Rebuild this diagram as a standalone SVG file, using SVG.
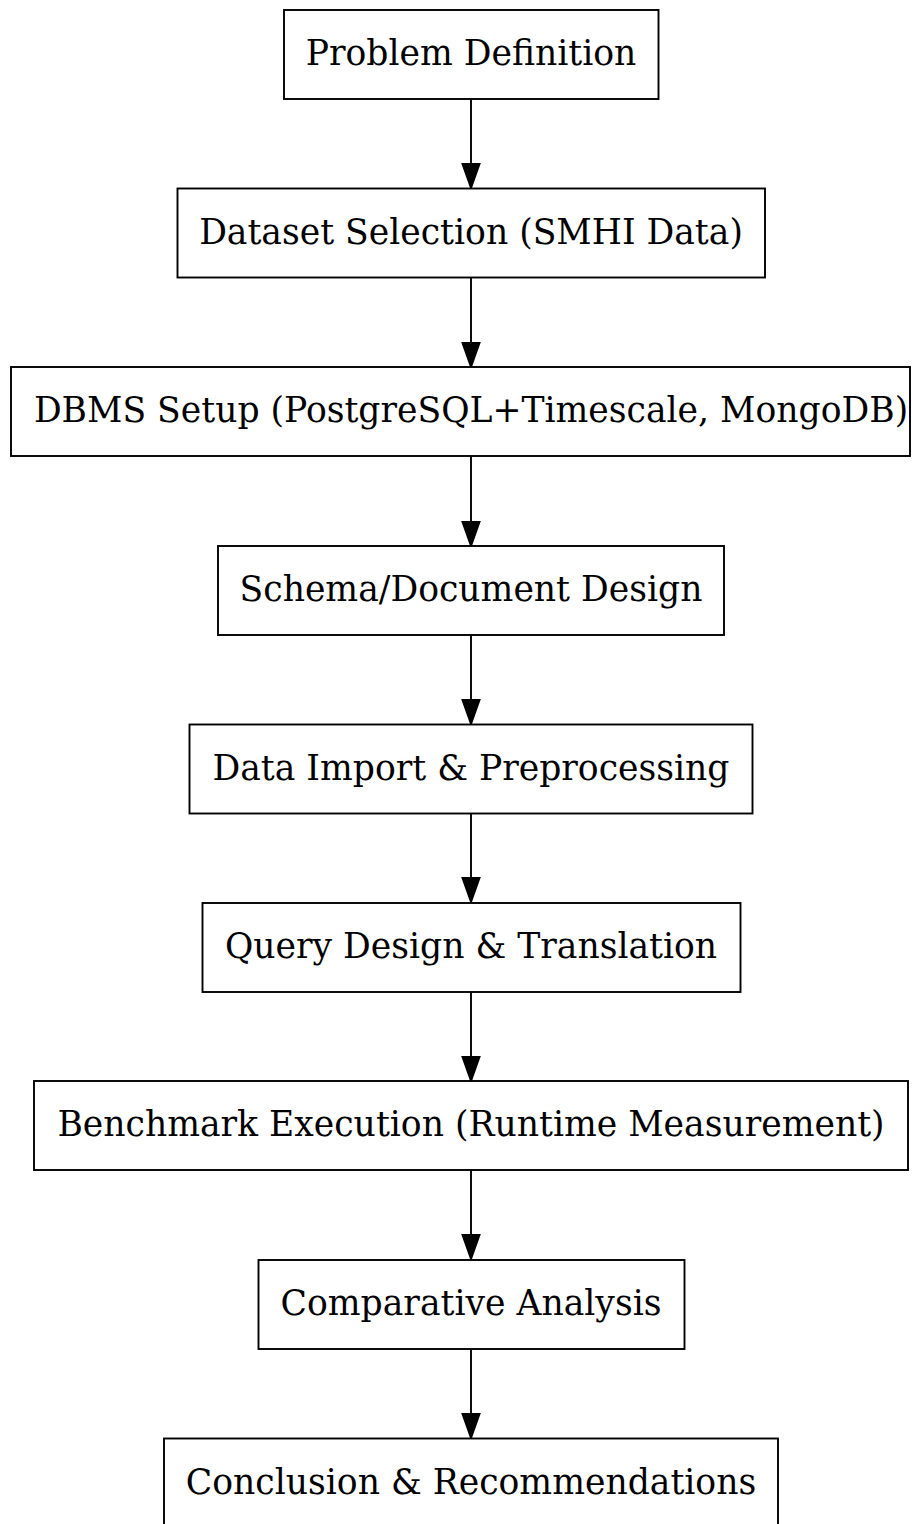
<svg xmlns="http://www.w3.org/2000/svg" width="921" height="1524" viewBox="0 0 921 1524">
<style>
.n rect{fill:#fff;stroke:#000;stroke-width:1.9}
.n text{font-family:"DejaVu Serif",serif;font-size:34.6px;text-anchor:middle;fill:#000}
.e line{stroke:#000;stroke-width:1.9}
.e polygon{fill:#000;stroke:#000;stroke-width:1.9}
</style>
<rect width="921" height="1524" fill="#fff"/>
<g class="e">
<line x1="471" y1="99" x2="471" y2="164"/><polygon points="462.5,164 479.5,164 471,188"/>
<line x1="471" y1="277" x2="471" y2="343"/><polygon points="462.5,343 479.5,343 471,367"/>
<line x1="471" y1="456" x2="471" y2="522"/><polygon points="462.5,522 479.5,522 471,546"/>
<line x1="471" y1="635" x2="471" y2="700"/><polygon points="462.5,700 479.5,700 471,724"/>
<line x1="471" y1="813" x2="471" y2="878"/><polygon points="462.5,878 479.5,878 471,902"/>
<line x1="471" y1="991" x2="471" y2="1057"/><polygon points="462.5,1057 479.5,1057 471,1081"/>
<line x1="471" y1="1170" x2="471" y2="1235"/><polygon points="462.5,1235 479.5,1235 471,1259"/>
<line x1="471" y1="1348" x2="471" y2="1414"/><polygon points="462.5,1414 479.5,1414 471,1438"/>
</g>
<g id="n1" class="n"><rect x="284" y="10" width="374.5" height="89"/><text x="471" y="65">Problem Definition</text></g>
<g id="n2" class="n"><rect x="177.5" y="188.5" width="587.5" height="89"/><text x="471" y="243.5">Dataset Selection (SMHI Data)</text></g>
<g id="n3" class="n"><rect x="11" y="367" width="899" height="89"/><text x="471" y="422">DBMS Setup (PostgreSQL+Timescale, MongoDB)</text></g>
<g id="n4" class="n"><rect x="218" y="546" width="506" height="89"/><text x="471" y="601">Schema/Document Design</text></g>
<g id="n5" class="n"><rect x="189.5" y="724.5" width="563" height="89"/><text x="471" y="779.5">Data Import &amp; Preprocessing</text></g>
<g id="n6" class="n"><rect x="202.5" y="903" width="538" height="89"/><text x="471" y="958">Query Design &amp; Translation</text></g>
<g id="n7" class="n"><rect x="34" y="1081" width="874" height="89"/><text x="471" y="1136">Benchmark Execution (Runtime Measurement)</text></g>
<g id="n8" class="n"><rect x="258.5" y="1260" width="426" height="89"/><text x="471" y="1315">Comparative Analysis</text></g>
<g id="n9" class="n"><rect x="164" y="1438.5" width="614" height="89"/><text x="471" y="1493.5">Conclusion &amp; Recommendations</text></g>
</svg>
